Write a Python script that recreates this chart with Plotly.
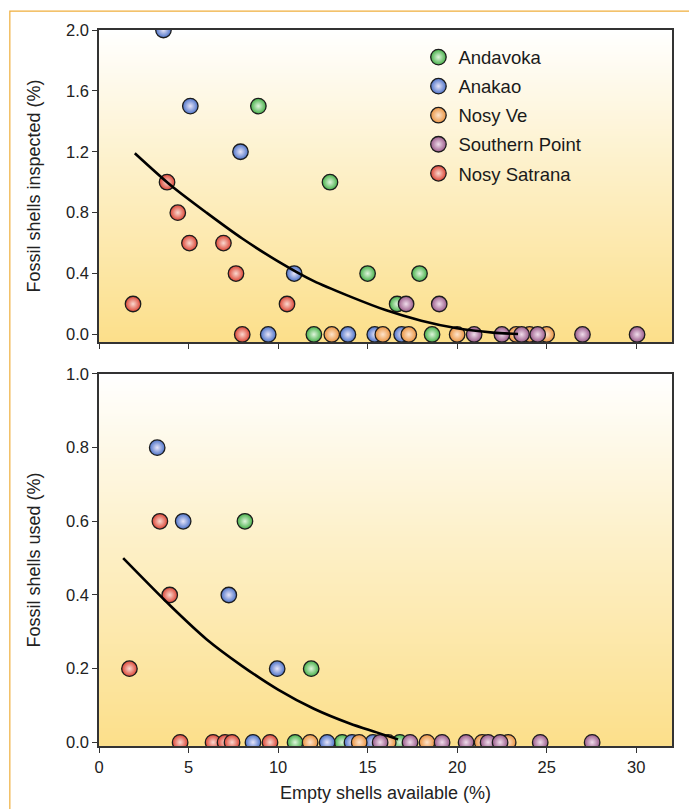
import plotly.graph_objects as go
from plotly.subplots import make_subplots

# ---- data ----
sites = ["Andavoka", "Anakao", "Nosy Ve", "Southern Point", "Nosy Satrana"]

# Top panel: fossil shells inspected (%)
andavoka_top_x = [8.9, 12.9, 15.0, 17.9, 16.65, 12.0, 18.6]
andavoka_top_y = [1.5, 1.0, 0.4, 0.4, 0.2, 0.0, 0.0]
anakao_top_x = [3.6, 5.1, 7.9, 10.9, 9.45, 13.9, 15.4, 16.9]
anakao_top_y = [2.0, 1.5, 1.2, 0.4, 0.0, 0.0, 0.0, 0.0]
nosyve_top_x = [13.0, 15.85, 17.3, 20.0, 23.3, 24.05, 25.0]
nosyve_top_y = [0.0, 0.0, 0.0, 0.0, 0.0, 0.0, 0.0]
southern_top_x = [17.15, 19.0, 20.95, 22.5, 23.6, 24.5, 27.0, 30.05]
southern_top_y = [0.2, 0.2, 0.0, 0.0, 0.0, 0.0, 0.0, 0.0]
satrana_top_x = [1.9, 3.8, 4.4, 5.05, 6.95, 7.65, 10.5, 8.0]
satrana_top_y = [0.2, 1.0, 0.8, 0.6, 0.6, 0.4, 0.2, 0.0]

# Bottom panel: fossil shells used (%)
andavoka_bot_x = [8.15, 11.85, 10.95, 13.58, 16.8]
andavoka_bot_y = [0.6, 0.2, 0.0, 0.0, 0.0]
anakao_bot_x = [3.25, 4.7, 7.25, 9.95, 8.6, 12.74, 14.13, 15.3]
anakao_bot_y = [0.8, 0.6, 0.4, 0.2, 0.0, 0.0, 0.0, 0.0]
nosyve_bot_x = [11.79, 14.53, 16.15, 18.32, 21.4, 22.85]
nosyve_bot_y = [0.0, 0.0, 0.0, 0.0, 0.0, 0.0]
southern_bot_x = [15.7, 17.37, 19.16, 20.5, 21.73, 22.4, 24.64, 27.54]
southern_bot_y = [0.0, 0.0, 0.0, 0.0, 0.0, 0.0, 0.0, 0.0]
satrana_bot_x = [3.4, 3.95, 1.7, 4.53, 6.37, 7.04, 7.43, 9.55]
satrana_bot_y = [0.6, 0.4, 0.2, 0.0, 0.0, 0.0, 0.0, 0.0]

# Fitted curves
top_curve_x = [2.0, 4, 6, 8, 10, 12, 14, 16, 18, 20, 22, 23.4]
top_curve_y = [1.19, 0.98, 0.80, 0.63, 0.48, 0.35, 0.25, 0.16, 0.09, 0.04, 0.012, 0.003]
bot_curve_x = [1.35, 4, 6, 8, 10, 12, 14, 15.5, 16.7]
bot_curve_y = [0.50, 0.37, 0.28, 0.207, 0.143, 0.091, 0.051, 0.027, 0.008]

x_ticks = [0, 5, 10, 15, 20, 25, 30]
top_y_ticks = [0.0, 0.4, 0.8, 1.2, 1.6, 2.0]
bot_y_ticks = [0.0, 0.2, 0.4, 0.6, 0.8, 1.0]

# ---- styles ----
edge_colors = ["#45b048", "#4c72c8", "#ea9340", "#9a5a8a", "#dc4434"]
center_colors = ["#dff4dc", "#e6e4f8", "#fde4cc", "#efdcea", "#f9d8cf"]
FONT = "Liberation Sans, Arial"
NARROW = "Liberation Sans Narrow, Arial Narrow, Liberation Sans"

X_RANGE = [0, 32]
TOP_RANGE = [-0.05, 2.0]
BOT_RANGE = [-0.01, 1.0]

fig = make_subplots(rows=2, cols=1, vertical_spacing=0.0)

# gradient backgrounds
for row, yr in ((1, TOP_RANGE), (2, BOT_RANGE)):
    fig.add_trace(go.Heatmap(
        x=X_RANGE, y=yr, z=[[0, 0], [1, 1]], zsmooth="best",
        colorscale=[[0, "#fcdf8a"], [0.55, "#fdf0c8"], [1, "#ffffff"]],
        showscale=False, hoverinfo="skip", zmin=0, zmax=1,
    ), row=row, col=1)

top_data = [(andavoka_top_x, andavoka_top_y), (anakao_top_x, anakao_top_y),
            (nosyve_top_x, nosyve_top_y), (southern_top_x, southern_top_y),
            (satrana_top_x, satrana_top_y)]
bot_data = [(andavoka_bot_x, andavoka_bot_y), (anakao_bot_x, anakao_bot_y),
            (nosyve_bot_x, nosyve_bot_y), (southern_bot_x, southern_bot_y),
            (satrana_bot_x, satrana_bot_y)]

def marker(i):
    return dict(size=15.5, color=edge_colors[i],
                gradient=dict(type="radial", color=center_colors[i]),
                line=dict(color="#1c1c1c", width=1.3))

for i, name in enumerate(sites):
    fig.add_trace(go.Scatter(x=top_data[i][0], y=top_data[i][1], mode="markers",
                             name=name, marker=marker(i), legendgroup=name,
                             showlegend=True), row=1, col=1)
for i, name in enumerate(sites):
    fig.add_trace(go.Scatter(x=bot_data[i][0], y=bot_data[i][1], mode="markers",
                             name=name, marker=marker(i), legendgroup=name,
                             showlegend=False), row=2, col=1)

fig.add_trace(go.Scatter(x=top_curve_x, y=top_curve_y, mode="lines",
                         line=dict(color="black", width=2.6, shape="spline", smoothing=0.8),
                         showlegend=False, hoverinfo="skip"), row=1, col=1)
fig.add_trace(go.Scatter(x=bot_curve_x, y=bot_curve_y, mode="lines",
                         line=dict(color="black", width=2.6, shape="spline", smoothing=0.8),
                         showlegend=False, hoverinfo="skip"), row=2, col=1)

axis_common = dict(showline=True, linecolor="#333333", linewidth=1.6, mirror=True,
                   ticks="outside", ticklen=5, tickwidth=1.3, tickcolor="#333333",
                   showgrid=False, zeroline=False, automargin=False,
                   tickfont=dict(family=FONT, size=16.5, color="#222222"))

fig.update_xaxes(range=X_RANGE, tickvals=x_ticks, **axis_common)
fig.update_xaxes(showticklabels=False, row=1, col=1)
fig.update_xaxes(title=dict(text="Empty shells available (%)", standoff=12,
                            font=dict(family=FONT, size=18, color="#222222")),
                 row=2, col=1)
fig.update_yaxes(range=TOP_RANGE, tickvals=top_y_ticks, tickformat=".1f",
                 title=dict(text="Fossil shells inspected (%)", standoff=21,
                            font=dict(family=NARROW, size=18, color="#222222")),
                 row=1, col=1, **axis_common)
fig.update_yaxes(range=BOT_RANGE, tickvals=bot_y_ticks, tickformat=".1f",
                 title=dict(text="Fossil shells used (%)", standoff=21,
                            font=dict(family=NARROW, size=18, color="#222222")),
                 row=2, col=1, **axis_common)

fig.update_layout(
    width=689, height=809,
    margin=dict(l=99, r=17, t=30, b=63, autoexpand=False),
    paper_bgcolor="white", plot_bgcolor="rgba(0,0,0,0)",
    xaxis=dict(domain=[0, 1]), xaxis2=dict(domain=[0, 1]),
    yaxis=dict(domain=[0.5642, 1.0]), yaxis2=dict(domain=[0.0, 0.5196]),
    legend=dict(x=0.5575, y=0.988, xanchor="left", yanchor="top",
                bgcolor="rgba(0,0,0,0)", borderwidth=0, tracegroupgap=2,
                font=dict(family=FONT, size=18.5, color="#1a1a1a"),
                itemwidth=30),
    shapes=[dict(type="rect", xref="paper", yref="paper",
                 x0=-0.1556, x1=1.1, y0=-0.2, y1=1.0264,
                 line=dict(color="#efae3c", width=1.2), fillcolor="rgba(0,0,0,0)",
                 layer="below")],
    showlegend=True,
)

fig.write_html("out.html", config={"displayModeBar": False},
               post_script="document.body.style.margin='0';document.body.style.padding='0';")
